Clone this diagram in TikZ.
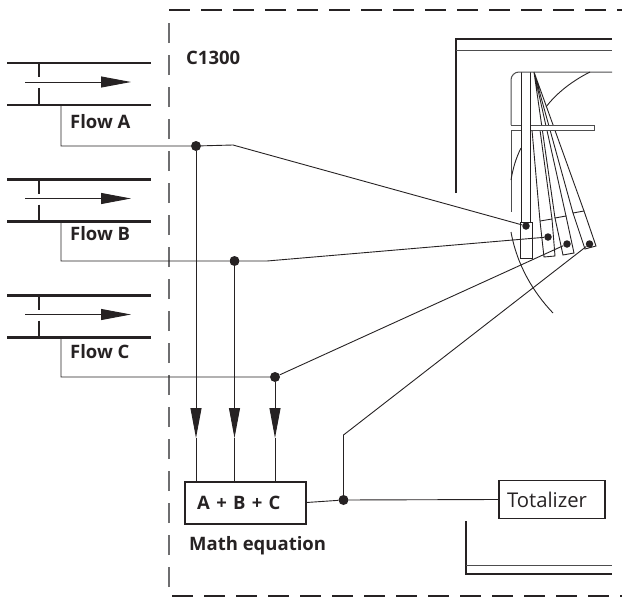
\documentclass[tikz,border=0pt]{standalone}
\usepackage{fontspec}
\setmainfont{Open Sans}
\usetikzlibrary{arrows.meta, calc}
\definecolor{csdark}{HTML}{262223}
\definecolor{csgray}{HTML}{6E6E70}

\begin{document}
\begin{tikzpicture}[
    x=1pt, y=-1pt,
    pipe/.style={line width=2.4pt, color=csdark},
    thinline/.style={line width=0.9pt, color=csdark},
    wire/.style={line width=0.9pt, color=csdark},
    flowtip/.style={-{Triangle[length=30pt, width=11pt]}, line width=0.9pt, color=csdark},
    pipetip/.style={-{Triangle[length=30pt, width=11pt]}, line width=0.9pt, color=csdark},
    border/.style={line width=1.3pt, color=csgray, dash pattern=on 20.5pt off 11.5pt},
    dot/.style={circle, fill=csdark, inner sep=0pt, minimum size=10pt},
    smalldot/.style={circle, fill=csdark, inner sep=0pt, minimum size=7.5pt},
    label/.style={font=\fontsize{18.5}{22}\selectfont\bfseries, color=csdark, anchor=west, inner sep=0pt},
    housing/.style={line width=2pt, color=csdark},
    housingthin/.style={line width=1pt, color=csgray!70!black}
]
\useasboundingbox (0,0) rectangle (622,597);

% Instrument border
\draw[border] (169,587) -- (169,22);
\draw[border, color=csdark, line width=1.1pt] (169,10) -- (622,10);
\draw[border, color=csdark, line width=1.1pt] (172,596) -- (622,596);

% Pipes
\foreach \name/\yy in {a/0, b/116.5, c/232.5} {
  \begin{scope}[yshift=-\yy pt]
    \draw[pipe] (7,63) -- (151,63);
    \draw[pipe] (7,105) -- (151,105);
    \draw[thinline, line width=1.2pt] (39,63) -- (39,77);
    \draw[thinline, line width=1.2pt] (39,88) -- (39,105);
    \draw[pipetip] (25,82) -- (131,82);
    \coordinate (pipe\name) at (61,105);
  \end{scope}
}

% Labels
\node[label] (flowa) at (70,122) {Flow A};
\node[label] (flowb) at (70,234) {Flow B};
\node[label] (flowc) at (70,352) {Flow C};
\node[label] (meter) at (186,58) {C1300};
\node[label] (mathlabel) at (189,546) {Math equation};

% Boxes
\node[draw=csdark, line width=2pt, minimum width=121pt, minimum height=42pt, inner sep=0pt] (sumbox) at (245,502.5) {};
\node[label] (sumtext) at (197,503) {\spaceskip=6.3pt A + B + C};
\node[draw=csdark, line width=1.1pt, text width=90pt, align=left, inner xsep=8pt, minimum height=38pt, inner ysep=0pt, font=\fontsize{20.3}{24}\selectfont, text=csdark] (totalizer) at (552,499.5) {Totalizer};

% Junctions
\node[dot] (dota) at (196,146) {};
\node[dot] (dotb) at (234.5,261) {};
\node[dot] (dotc) at (275,377) {};
\node[dot] (dotd) at (343.5,500) {};

% Sensor ends
\node[smalldot] (senseA) at (526,226) {};
\node[smalldot] (senseB) at (548,237) {};
\node[smalldot] (senseC) at (567,244) {};
\node[smalldot] (senseD) at (589.5,244) {};

% Measuring paths
\draw[thinline] (534,72) -- (555,218) (534,72) -- (566,216);
\draw[thinline] (534,72) -- (573,213) (534,72) -- (584,211);
\draw[thinline] (532,130) -- (540,221) (540,130) -- (552,219);
\draw[thinline] (540,221) -- (552,219) -- (555,256) -- (544,257) -- cycle;
\draw[thinline] (555,218) -- (566,216) -- (574,253) -- (563,255) -- cycle;
\draw[thinline] (573,213) -- (584,211) -- (596,246) -- (585,249) -- cycle;
\draw[thinline] (521,72) -- (521,222) (530.5,72) -- (530.5,222);
\draw[thinline] (520,222) rectangle (532,258);

% Housing
\draw[housing] (456,193) -- (456,39) -- (612,39);
\draw[housingthin] (456,50) -- (612,50);
\draw[housing] (466,521) -- (466,574) -- (612,574);
\draw[housingthin] (466,565) -- (612,565);
\draw[housingthin] (511,125) -- (511,80) arc[start angle=180, end angle=90, radius=8pt] -- (612,72);
\draw[housingthin] (511,130) -- (511,212);
\draw[housingthin] (511,125) -- (521,125) (511,130) -- (521,130);
\draw[housingthin, fill=white] (530.5,125) -- (594,125) -- (594,130) -- (530.5,130);
\draw[thinline] (590,72) .. controls (570,82) and (555,95) .. (546,107);
\draw[thinline] (521,148) .. controls (516,158) and (513,168) .. (511,180);
\draw[thinline] (511,232) .. controls (517,265) and (533,292) .. (553,313);

% Signal wires
\draw[wire] (pipea) -- (61,146) -- (dota) -- (233,145) -- (senseA);
\draw[wire] (pipeb) -- (61,261) -- (dotb) -- (267,261) -- (senseB);
\draw[wire] (pipec) -- (61,377) -- (dotc) -- (senseC);
\draw[wire] (dotd) -- (343.5,435) -- (senseD);
\draw[wire] (sumbox.east) -- (dotd) -- (totalizer.west);

% Inputs to the equation
\draw[flowtip] (dota) -- (196,438);
\draw[flowtip] (dotb) -- (234.5,438);
\draw[flowtip] (dotc) -- (275,438);
\draw[wire] (196,438) -- (dota |- sumbox.north);
\draw[wire] (234.5,438) -- (dotb |- sumbox.north);
\draw[wire] (275,438) -- (dotc |- sumbox.north);

\end{tikzpicture}
\end{document}
